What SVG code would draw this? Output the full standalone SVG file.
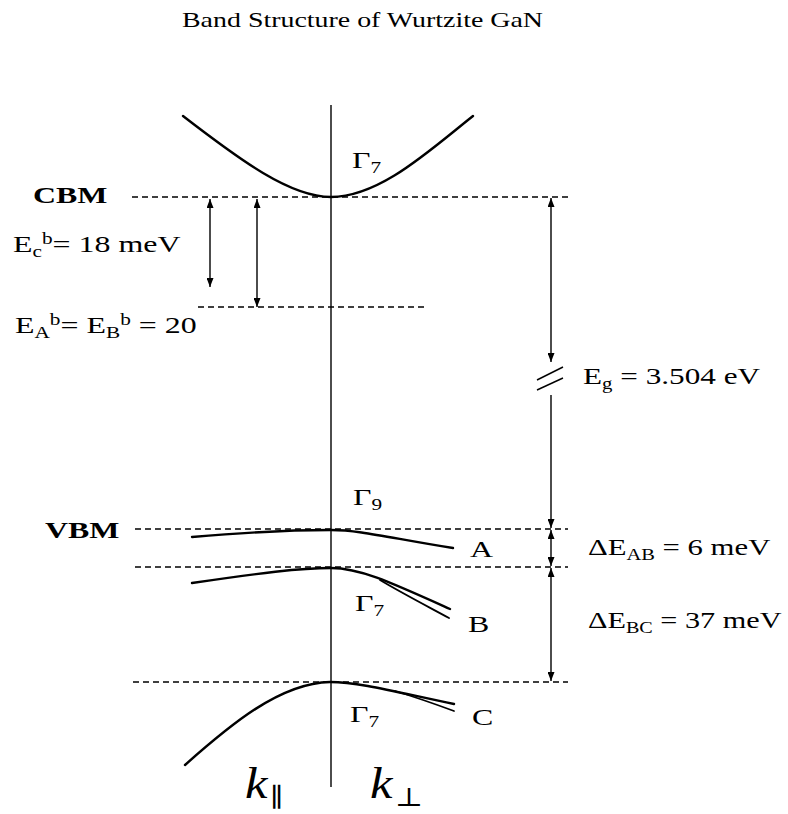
<svg xmlns="http://www.w3.org/2000/svg" width="788" height="814" viewBox="0 0 788 814">
<style>
text{font-family:"Liberation Serif","Times New Roman",serif;fill:#000;font-size:24px}
.t{font-size:21px}
.b{font-weight:bold}
.sub{font-size:16px}
.k{font-size:44px;font-style:italic}
.ks{font-size:26px;font-style:normal;font-family:"DejaVu Serif","Liberation Serif",serif}
.band{fill:none;stroke:#000;stroke-width:2.4;stroke-linecap:round}
.br{stroke-width:1.8}
.thin{fill:none;stroke:#000;stroke-width:1.4}
.dash{fill:none;stroke:#000;stroke-width:1.4;stroke-dasharray:6 4}
.arr{fill:none;stroke:#000;stroke-width:1.4;marker-end:url(#ah);marker-start:url(#ah)}
.arrE{fill:none;stroke:#000;stroke-width:1.4;marker-end:url(#ah)}
</style>
<defs>
<marker id="ah" viewBox="0 0 10 10" refX="10" refY="5" markerWidth="9" markerHeight="7" markerUnits="userSpaceOnUse" orient="auto-start-reverse" preserveAspectRatio="none">
<path d="M0,0 L10,5 L0,10 z" fill="#000"/>
</marker>
</defs>
<rect width="788" height="814" fill="#fff"/>

<g id="title"><text class="t" transform="translate(182,27) scale(1.33,1)">Band Structure of Wurtzite GaN</text></g>

<g id="levels">
<line class="thin" x1="331" y1="105" x2="331" y2="787"/>
<line class="dash" x1="132" y1="197" x2="568" y2="197"/>
<line class="dash" x1="198" y1="307" x2="426" y2="307"/>
<line class="dash" x1="135" y1="529" x2="568" y2="529"/>
<line class="dash" x1="135" y1="567" x2="568" y2="567"/>
<line class="dash" x1="133" y1="682" x2="568" y2="682"/>
</g>

<g id="conduction-band">
<path class="band" d="M183,116 C240,160 290,197 331,197 C380,197 430,150 473,116"/>
<text transform="translate(352,168) scale(1.33,1)">Γ<tspan class="sub" dy="5">7</tspan></text>
</g>

<g id="band-A">
<path class="band" d="M192,537 C250,532 300,530 331,530 C360,530 390,538 453,548"/>
<text transform="translate(353,505) scale(1.33,1)">Γ<tspan class="sub" dy="5">9</tspan></text>
<text transform="translate(470,557) scale(1.33,1)">A</text>
</g>

<g id="band-B">
<path class="band" d="M192,583 C260,573 300,568 331,568 C360,568 390,582 450,609"/>
<path class="band br" d="M380,580 C400,592 425,605 449,618"/>
<text transform="translate(355,611) scale(1.33,1)">Γ<tspan class="sub" dy="5">7</tspan></text>
<text transform="translate(468,632) scale(1.33,1)">B</text>
</g>

<g id="band-C">
<path class="band" d="M185,765 C230,725 280,683 330,682 C360,682 400,693 454,704"/>
<path class="band br" d="M395,691 C415,697 435,704 454,711"/>
<text transform="translate(350,722) scale(1.33,1)">Γ<tspan class="sub" dy="5">7</tspan></text>
<text transform="translate(472,725) scale(1.33,1)">C</text>
</g>

<g id="labels">
<text class="b" transform="translate(33,203) scale(1.33,1)">CBM</text>
<text class="b" transform="translate(45,538) scale(1.33,1)">VBM</text>
<text transform="translate(13,252) scale(1.33,1)">E<tspan class="sub" dy="5">c</tspan><tspan class="sub" dy="-13">b</tspan><tspan dy="8">= 18 meV</tspan></text>
<text transform="translate(15,333) scale(1.33,1)">E<tspan class="sub" dy="5">A</tspan><tspan class="sub" dy="-13">b</tspan><tspan dy="8">= E</tspan><tspan class="sub" dy="5">B</tspan><tspan class="sub" dy="-13">b</tspan><tspan dy="8"> = 20</tspan></text>
<text transform="translate(583,384) scale(1.3,1)">E<tspan class="sub" dy="5">g</tspan><tspan dy="-5"> = 3.504 eV</tspan></text>
<text transform="translate(588,555) scale(1.28,1)">ΔE<tspan class="sub" dy="5">AB</tspan><tspan dy="-5"> = 6 meV</tspan></text>
<text transform="translate(588,628) scale(1.26,1)">ΔE<tspan class="sub" dy="5">BC</tspan><tspan dy="-5"> = 37 meV</tspan></text>
<text class="k" transform="translate(245,798) scale(1.15,1)">k<tspan class="ks" dx="2" dy="8">∥</tspan></text>
<text class="k" transform="translate(370,798) scale(1.15,1)">k<tspan class="ks" dx="2" dy="8">⊥</tspan></text>
</g>

<g id="connectors">
<line class="arr" x1="210" y1="199" x2="210" y2="287"/>
<line class="arr" x1="257" y1="199" x2="257" y2="307"/>
<line class="arr" x1="551" y1="362" x2="551" y2="198"/>
<line class="arrE" x1="551" y1="395" x2="551" y2="528"/>
<line class="thin" x1="537" y1="380" x2="563" y2="367"/>
<line class="thin" x1="537" y1="390" x2="563" y2="378"/>
<line class="arr" x1="551" y1="530" x2="551" y2="566"/>
<line class="arr" x1="551" y1="568" x2="551" y2="681"/>
</g>
</svg>
